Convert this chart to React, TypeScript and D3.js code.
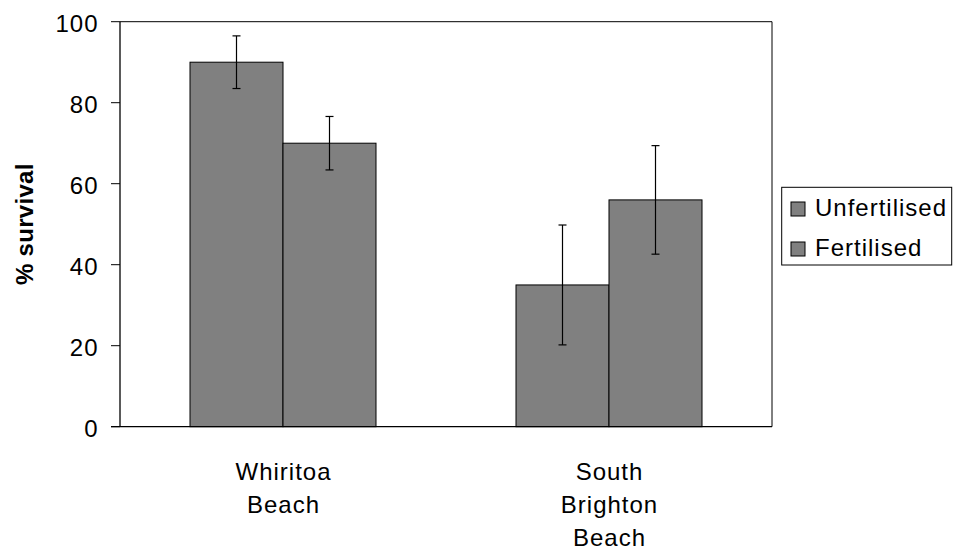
import React from "react";
import * as d3 from "d3";

const categories: string[][] = [["Whiritoa", "Beach"], ["South", "Brighton", "Beach"]];
const seriesNames = ["Unfertilised", "Fertilised"];
const unfertilised = [90, 35];
const fertilised = [70, 56];
const unfertilisedErr = [6.5, 14.8];
const fertilisedErr = [6.6, 13.4];
const yTicks = [0, 20, 40, 60, 80, 100];

const W = 957;
const H = 552;
const left = 120;
const right = 772;
const top = 21.7;
const bottom = 426.7;
const font = "'Liberation Sans', Arial, Helvetica, sans-serif";
const fs = 24;
const ls = 1;

export default function App() {
  const y = d3.scaleLinear().domain([0, 100]).range([bottom, top]);
  const x0 = d3.scaleBand<number>().domain([0, 1]).range([left, right]).paddingInner(0).paddingOuter(0);
  const innerPad = (326 - 186) / 326 / 2;
  const x1 = d3
    .scaleBand<number>()
    .domain([0, 1])
    .range([x0.bandwidth() * innerPad, x0.bandwidth() * (1 - innerPad)]);
  const series = [
    { vals: unfertilised, errs: unfertilisedErr },
    { vals: fertilised, errs: fertilisedErr },
  ];
  const fill = "#808080";
  return (
    <svg width={W} height={H} style={{ position: "absolute", left: 0, top: 0, background: "#fff" }} fontFamily={font}>
      <rect x={0} y={0} width={W} height={H} fill="#fff" />
      <line x1={left} x2={right} y1={top} y2={top} stroke="#000" strokeWidth={1} />
      <line x1={right} x2={right} y1={top} y2={bottom} stroke="#000" strokeWidth={1} />
      {series.map((s, si) =>
        s.vals.map((v, ci) => {
          const bx = (x0(ci) as number) + (x1(si) as number);
          const bw = x1.bandwidth();
          return (
            <rect
              key={`b${si}-${ci}`}
              x={bx}
              y={y(v)}
              width={bw}
              height={y(0) - y(v)}
              fill={fill}
              stroke="#000"
              strokeWidth={1}
            />
          );
        })
      )}
      {series.map((s, si) =>
        s.vals.map((v, ci) => {
          const cx = (x0(ci) as number) + (x1(si) as number) + x1.bandwidth() / 2;
          const hi = y(v + s.errs[ci]);
          const lo = y(v - s.errs[ci]);
          return (
            <g key={`e${si}-${ci}`} stroke="#000" strokeWidth={1.2}>
              <line x1={cx} x2={cx} y1={hi} y2={lo} />
              <line x1={cx - 4} x2={cx + 4} y1={hi} y2={hi} />
              <line x1={cx - 4} x2={cx + 4} y1={lo} y2={lo} />
            </g>
          );
        })
      )}
      <line x1={left} x2={left} y1={top} y2={bottom} stroke="#000" strokeWidth={1.3} />
      <line x1={left - 9} x2={right} y1={bottom} y2={bottom} stroke="#000" strokeWidth={1.3} />
      {yTicks.map((t) => (
        <g key={t}>
          <line x1={left - 9} x2={left} y1={y(t)} y2={y(t)} stroke="#000" strokeWidth={1} />
          <text
            x={left - 21.5}
            y={y(t)}
            dy={10.6}
            textAnchor="end"
            fontSize={fs}
            letterSpacing={ls}
            fill="#000"
          >
            {t}
          </text>
        </g>
      ))}
      <text
        transform={`translate(${33},${(top + bottom) / 2}) rotate(-90)`}
        textAnchor="middle"
        fontSize={24}
        fontWeight="bold"
        letterSpacing={0.3}
        fill="#000"
      >
        % survival
      </text>
      {categories.map((lines, ci) => {
        const cx = (x0(ci) as number) + x0.bandwidth() / 2 + ls / 2;
        return (
          <text key={`c${ci}`} x={cx} textAnchor="middle" fontSize={fs} letterSpacing={ls} fill="#000">
            {lines.map((l, li) => (
              <tspan key={li} x={cx} y={479.5 + li * 33}>
                {l}
              </tspan>
            ))}
          </text>
        );
      })}
      <rect x={781.7} y={187.3} width={170} height={77.7} fill="#fff" stroke="#000" strokeWidth={1} />
      {seriesNames.map((n, i) => (
        <g key={n}>
          <rect x={791} y={202} width={14} height={14} fill={fill} stroke="#000" strokeWidth={1}
            transform={`translate(0,${i * 40})`} />
          <text x={815} y={216 + i * 40} fontSize={fs} letterSpacing={ls} fill="#000">
            {n}
          </text>
        </g>
      ))}
    </svg>
  );
}
